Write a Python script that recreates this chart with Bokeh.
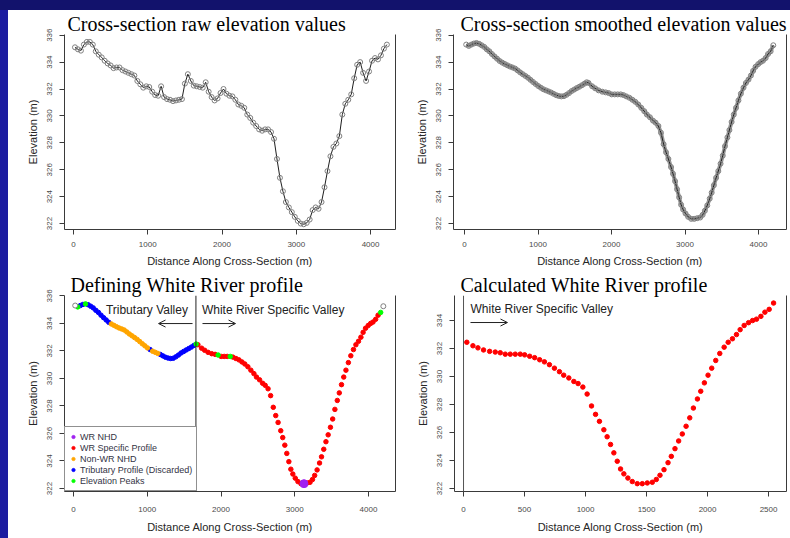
from bokeh.plotting import figure
from bokeh.models import (Range1d, FixedTicker, LinearAxis, Label, Span, Arrow,
                          OpenHead, Legend, LegendItem, GlobalInlineStyleSheet)
from bokeh.layouts import column, row
from bokeh.embed import file_html
from bokeh.resources import INLINE

# ---------------- data ----------------
raw_dist = [20, 60, 100, 140, 180, 220, 260, 300, 340, 380, 420, 460, 500, 540, 580, 620,
            660, 700, 740, 780, 820, 860, 900, 940, 980, 1020, 1060, 1100, 1140, 1180, 1220,
            1260, 1300, 1340, 1380, 1420, 1460, 1500, 1540, 1580, 1620, 1660, 1700, 1740,
            1780, 1820, 1860, 1900, 1940, 1980, 2020, 2060, 2100, 2140, 2180, 2220, 2260,
            2300, 2340, 2380, 2420, 2460, 2500, 2540, 2580, 2620, 2660, 2700, 2740, 2780,
            2820, 2860, 2900, 2940, 2980, 3020, 3060, 3100, 3140, 3180, 3220, 3260, 3300,
            3340, 3380, 3420, 3460, 3500, 3540, 3580, 3620, 3660, 3700, 3740, 3780, 3820,
            3860, 3900, 3940, 3980, 4020, 4060, 4100, 4140, 4180, 4220]
raw_elev = [335.1, 334.95, 334.85, 335.3, 335.5, 335.5, 335.3, 334.8, 334.55, 334.35, 334.1,
            333.9, 333.75, 333.55, 333.6, 333.6, 333.4, 333.3, 333.2, 333.1, 333.0, 332.6,
            332.35, 332.1, 332.2, 332.15, 331.8, 331.55, 331.5, 332.2, 331.4, 331.25, 331.2,
            331.1, 331.15, 331.2, 331.25, 332.4, 333.1, 332.6, 332.25, 332.2, 332.15, 332.1,
            332.5, 331.8, 331.4, 331.15, 331.3, 331.7, 332.0, 331.65, 331.5, 331.45, 331.2,
            330.85, 330.75, 330.6, 330.1, 329.85, 329.5, 329.25, 329.0, 328.9, 329.0, 329.0,
            328.8, 328.3, 326.8, 325.4, 324.4, 323.6, 323.2, 322.85, 322.5, 322.2, 322.0,
            321.95, 322.05, 322.3, 323.0, 323.2, 323.1, 323.6, 324.7, 325.9, 327.0, 327.7,
            327.95, 328.5, 330.1, 330.9, 331.2, 331.6, 332.8, 333.8, 334.0, 333.2, 332.6,
            333.3, 334.1, 334.3, 334.2, 334.5, 335.0, 335.3]

# smoothed profile, tributary side (left of the valley divide)
trib_dist = [23, 58, 93, 128, 163, 198, 233, 268, 303, 338, 373, 408, 443, 478, 513, 548,
             583, 618, 653, 688, 723, 758, 793, 828, 863, 898, 933, 968, 1003, 1038, 1073,
             1108, 1143, 1178, 1213, 1248, 1283, 1318, 1353, 1388, 1423, 1458, 1493, 1528,
             1563, 1598, 1633, 1663]
trib_elev = [335.3, 335.2, 335.3, 335.38, 335.42, 335.36, 335.25, 335.13, 334.95, 334.8,
             334.6, 334.42, 334.25, 334.08, 333.96, 333.86, 333.76, 333.67, 333.6, 333.52,
             333.38, 333.23, 333.1, 332.97, 332.84, 332.68, 332.52, 332.37, 332.22, 332.1,
             331.98, 331.9, 331.82, 331.74, 331.64, 331.54, 331.48, 331.45, 331.47, 331.57,
             331.7, 331.85, 331.96, 332.07, 332.17, 332.28, 332.4, 332.5]
# O = end point, G = elevation peak, T = tributary profile, N = non-WR NHD
trib_code = "OGTTGTTTTTTTTTNNNNNNNNNNNNNNNTNNNTTTTTTTTTTTTTTG"

# White River specific profile (distance from the valley divide)
wr_dist = [27, 77, 118, 164, 214, 260, 301, 342, 383, 424, 465, 501, 542, 583, 624, 663,
           704, 745, 786, 821, 863, 904, 939, 978, 1013, 1049, 1082, 1114, 1150, 1177, 1205,
           1232, 1260, 1287, 1314, 1347, 1383, 1424, 1465, 1506, 1547, 1580, 1610, 1643,
           1676, 1703, 1733, 1763, 1793, 1824, 1854, 1884, 1917, 1944, 1974, 2004, 2034,
           2067, 2100, 2136, 2169, 2204, 2237, 2267, 2300, 2336, 2369, 2401, 2437, 2470,
           2505, 2541]
wr_elev = [332.45, 332.2, 332.05, 331.9, 331.8, 331.75, 331.7, 331.6, 331.6, 331.6, 331.6,
           331.55, 331.45, 331.35, 331.2, 331.05, 330.85, 330.6, 330.35, 330.1, 329.9,
           329.65, 329.5, 329.25, 328.75, 327.9, 327.3, 326.8, 326.2, 325.7, 325.15, 324.55,
           323.95, 323.4, 323.05, 322.75, 322.5, 322.35, 322.35, 322.4, 322.45, 322.65,
           322.95, 323.35, 323.85, 324.3, 324.85, 325.4, 325.9, 326.45, 327.05, 327.75,
           328.4, 328.95, 329.55, 330.1, 330.6, 331.15, 331.65, 332.1, 332.45, 332.7, 333.0,
           333.35, 333.65, 333.85, 334.0, 334.1, 334.3, 334.6, 334.8, 335.25]
# R = WR specific profile, G = elevation peak, P = WR NHD, O = end point
wr_code = "RRRRRRGRRRGRRRRRRRRRRRRRRRRRRRRRRRRRRRPRRRRRRRRRRRRRRRRRRRRRRRRRRRRRRRGO"
wr_offset = 1660  # distance of the valley divide along the cross-section

xticks_full = [0, 1000, 2000, 3000, 4000]
xticks_wr = [0, 500, 1000, 1500, 2000, 2500]
yticks_full = [322, 324, 326, 328, 330, 332, 334, 336]
yticks_wr = [322, 324, 326, 328, 330, 332, 334]

titles = ["Cross-section raw elevation values", "Cross-section smoothed elevation values",
          "Defining White River profile", "Calculated White River profile"]
legend_labels = ["WR NHD", "WR Specific Profile", "Non-WR NHD",
                 "Tributary Profile (Discarded)", "Elevation Peaks"]
legend_colors = ["#A020F0", "#FF0000", "#FFA500", "#0000FF", "#00FF00"]

# ---------------- styling helpers ----------------
SANS = "Liberation Sans"
SERIF = "Liberation Serif"
LINE = "#3a3a3a"


def make_fig(w, h, xr, yr, xticks, yticks, borders, title, title_offset,
             xlab_standoff=7, xtitle_standoff=5):
    top, right, bottom, left = borders
    p = figure(width=w, height=h, x_range=Range1d(*xr), y_range=Range1d(*yr),
               output_backend="svg", toolbar_location=None, title=title,
               min_border_top=top, min_border_right=right,
               min_border_bottom=bottom, min_border_left=left)
    p.title.text_font = SERIF
    p.title.text_font_size = "20px"
    p.title.text_font_style = "normal"
    p.title.text_color = "black"
    p.title.align = "left"
    p.title.offset = title_offset
    p.title.standoff = 0
    p.xgrid.visible = False
    p.ygrid.visible = False
    p.outline_line_color = None
    p.background_fill_color = "white"
    p.border_fill_color = "white"
    for ax in (p.xaxis[0], p.yaxis[0]):
        ax.axis_line_color = LINE
        ax.major_tick_line_color = LINE
        ax.major_tick_out = 5
        ax.major_tick_in = 0
        ax.minor_tick_line_color = None
        ax.major_label_text_font = SANS
        ax.major_label_text_font_size = "8px"
        ax.major_label_text_color = "#4a4a4a"
        ax.axis_label_text_font = SANS
        ax.axis_label_text_font_size = "11px"
        ax.axis_label_text_font_style = "normal"
        ax.axis_label_text_color = "#262626"
    p.xaxis.ticker = FixedTicker(ticks=xticks)
    p.yaxis.ticker = FixedTicker(ticks=yticks)
    p.xaxis.major_label_standoff = xlab_standoff
    p.xaxis.axis_label_standoff = xtitle_standoff
    p.yaxis.major_label_standoff = 7
    p.yaxis.axis_label_standoff = 6
    p.yaxis.major_label_orientation = "vertical"
    p.xaxis.axis_label = "Distance Along Cross-Section (m)"
    p.yaxis.axis_label = "Elevation (m)"
    right_ax = LinearAxis(axis_line_color=LINE, major_tick_line_color=None,
                          minor_tick_line_color=None, major_tick_out=0, major_tick_in=0,
                          major_label_text_font_size="0px", major_label_standoff=0,
                          ticker=FixedTicker(ticks=[]))
    p.add_layout(right_ax, "right")
    return p


# ---------------- panel 1: raw ----------------
p1 = make_fig(390, 260, (-121, 4336), (321.56, 336.05), xticks_full, yticks_full,
              (23, 3, 41, 56), titles[0], 3)
p1.line(raw_dist, raw_elev, line_color="#1e1e1e", line_width=1)
p1.scatter(raw_dist, raw_elev, size=5, marker="circle", fill_color=None,
           line_color="#808080", line_width=1)

# ---------------- panel 2: smoothed ----------------
smooth_dist = trib_dist + [d + wr_offset for d in wr_dist]
smooth_elev = trib_elev + wr_elev
p2 = make_fig(392, 260, (-150, 4381), (321.56, 336.05), xticks_full, yticks_full,
              (23, 4, 41, 55), titles[1], 7)
p2.line(smooth_dist, smooth_elev, line_color="#9a9a9a", line_width=4)
p2.line(smooth_dist, smooth_elev, line_color="#1e1e1e", line_width=1)
p2.scatter(smooth_dist, smooth_elev, size=5, marker="circle", fill_color=None,
           line_color="#808080", line_width=1)

# ---------------- panel 3: defining profile ----------------
p3 = make_fig(390, 268, (-122, 4366), (321.78, 336.03), xticks_full, yticks_full,
              (25, 3, 47, 56), titles[2], 6, 10, 6)


def pick(dist, elev, code, keys, shift=0):
    xs = [d + shift for d, c in zip(dist, code) if c in keys]
    ys = [e for e, c in zip(elev, code) if c in keys]
    return xs, ys


bx, by = pick(trib_dist, trib_elev, trib_code, "T")
ox, oy = pick(trib_dist, trib_elev, trib_code, "N")
rx, ry = pick(wr_dist, wr_elev, wr_code, "R", wr_offset)
gx1, gy1 = pick(trib_dist, trib_elev, trib_code, "G")
gx2, gy2 = pick(wr_dist, wr_elev, wr_code, "G", wr_offset)
px, py = pick(wr_dist, wr_elev, wr_code, "P", wr_offset)
ex1, ey1 = pick(trib_dist, trib_elev, trib_code, "O")
ex2, ey2 = pick(wr_dist, wr_elev, wr_code, "O", wr_offset)

DOT = 4.5
r_blue = p3.scatter(bx, by, size=DOT, marker="circle", color=legend_colors[3])
r_orange = p3.scatter(ox, oy, size=DOT, marker="circle", color=legend_colors[2])
r_red = p3.scatter(rx, ry, size=DOT, marker="circle", color=legend_colors[1])
r_green = p3.scatter(gx1 + gx2, gy1 + gy2, size=DOT, marker="circle", color=legend_colors[4])
r_purple = p3.scatter(px, py, size=8, marker="circle", color=legend_colors[0])
p3.scatter(ex1 + ex2, ey1 + ey2, size=5, marker="circle", fill_color="white",
           line_color="#808080", line_width=1)

p3.add_layout(Span(location=wr_offset, dimension="height", line_color="#222222",
                   line_width=1))
p3.add_layout(Label(x=wr_offset, y=334.94, x_offset=-8, text="Tributary Valley",
                    text_font=SANS, text_font_size="12px", text_color="#222222",
                    text_align="right", text_baseline="middle"))
p3.add_layout(Label(x=wr_offset, y=334.94, x_offset=6, text="White River Specific Valley",
                    text_font=SANS, text_font_size="12px", text_color="#222222",
                    text_align="left", text_baseline="middle"))
p3.add_layout(Arrow(end=OpenHead(size=7, line_color="#222222", line_width=1),
                    x_start=1614, y_start=333.99, x_end=1153, y_end=333.99,
                    line_color="#222222", line_width=1))
p3.add_layout(Arrow(end=OpenHead(size=7, line_color="#222222", line_width=1),
                    x_start=1749, y_start=333.99, x_end=2197, y_end=333.99,
                    line_color="#222222", line_width=1))

legend = Legend(items=[LegendItem(label=legend_labels[0], renderers=[r_purple]),
                       LegendItem(label=legend_labels[1], renderers=[r_red]),
                       LegendItem(label=legend_labels[2], renderers=[r_orange]),
                       LegendItem(label=legend_labels[3], renderers=[r_blue]),
                       LegendItem(label=legend_labels[4], renderers=[r_green])],
                location="bottom_left", margin=0, padding=4, spacing=0,
                label_height=11, glyph_height=11, glyph_width=8, label_standoff=3,
                label_text_font=SANS, label_text_font_size="9px",
                label_text_color="#333344", border_line_color="#222222",
                border_line_width=1, background_fill_color="white",
                background_fill_alpha=1.0)
p3.add_layout(legend)

# ---------------- panel 4: calculated WR profile ----------------
p4 = make_fig(392, 268, (-74, 2647), (321.79, 335.79), xticks_wr, yticks_wr,
              (25, 4, 47, 56), titles[3], 6, 10, 6)
p4.add_layout(Span(location=0, dimension="height", line_color="#555555", line_width=1))
p4.scatter(wr_dist, wr_elev, size=DOT, marker="circle", color=legend_colors[1])
p4.add_layout(Label(x=57, y=334.86, text="White River Specific Valley",
                    text_font=SANS, text_font_size="12px", text_color="#222222",
                    text_align="left", text_baseline="middle"))
p4.add_layout(Arrow(end=OpenHead(size=7, line_color="#222222", line_width=1),
                    x_start=57, y_start=333.86, x_end=360, y_end=333.86,
                    line_color="#222222", line_width=1))

layout = column(row(p1, p2, spacing=0), row(p3, p4, spacing=0), spacing=0,
                margin=(10, 0, 0, 8))
layout.stylesheets = [GlobalInlineStyleSheet(css=(
    "html { background: linear-gradient(to bottom, #12126c 0px, #12126c 10px, "
    "transparent 10px), linear-gradient(to right, #1c1ca0 0px, #1c1ca0 8px, "
    "#ffffff 8px); } body { background: transparent; }"))]

open("out.html", "w").write(file_html(layout, INLINE, title="White River profile"))
